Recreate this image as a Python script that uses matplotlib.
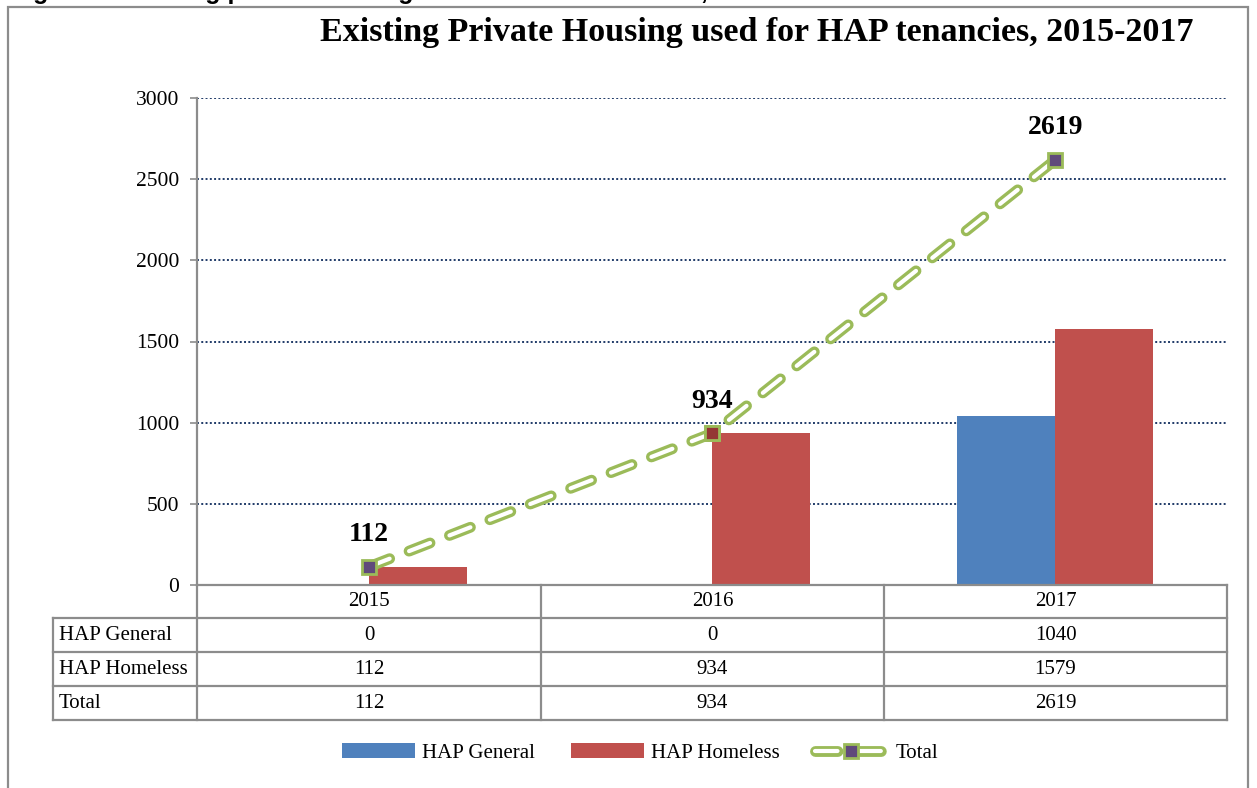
"""Existing private housing used for HAP tenancies, 2015-2017 (chart + data table)."""
import matplotlib
matplotlib.use("Agg")
import matplotlib.pyplot as plt
import matplotlib.patheffects as pe
from matplotlib.lines import Line2D
from matplotlib.patches import Rectangle
import numpy as np

years = ["2015", "2016", "2017"]
hap_general = [0, 0, 1040]
hap_homeless = [112, 934, 1579]
total = [112, 934, 2619]
row_labels = ["HAP General", "HAP Homeless", "Total"]
yticks = [0, 500, 1000, 1500, 2000, 2500, 3000]

W, H = 1257, 788
BLUE = "#4F81BD"
RED = "#C0504D"
GREEN = "#9BBB59"
PURPLE = "#604A7B"
DARKRED = "#943634"
GRAY = "#8C8C8C"
SERIF = "Liberation Serif"


def fx(px):
    return px / W


def fy(py):
    return 1 - py / H


fig = plt.figure(figsize=(W / 100, H / 100), dpi=100)
fig.patch.set_facecolor("white")

# cropped caption above the chart frame
fig.text(fx(11), fy(-1.5), "Figure 3: Existing private housing used for HAP tenancies, 2015-2017",
         ha="left", va="baseline", fontsize=18, fontweight="bold", family="Liberation Sans")

# outer chart frame (bottom edge runs off the page)
fig.patches.append(Rectangle((fx(8), -0.05), fx(1248) - fx(8), fy(7) + 0.05,
                             transform=fig.transFigure, fill=False, edgecolor=GRAY, lw=1.6))

fig.text(fx(757), fy(33), "Existing Private Housing used for HAP tenancies, 2015-2017",
         ha="center", va="center", fontsize=24.5, fontweight="bold", family=SERIF)

# plot area
left, right, top, bottom = 197, 1227, 98, 585
ax = fig.add_axes([fx(left), fy(bottom), fx(right - left), (bottom - top) / H])
x = np.arange(len(years))
width = 0.285
ax.bar(x - width / 2, hap_general, width, color=BLUE, label="HAP General", zorder=2)
ax.bar(x + width / 2, hap_homeless, width, color=RED, label="HAP Homeless", zorder=2)

line, = ax.plot(x, total, color="white", lw=3, ls=(0, (5.4, 5.0)),
                dash_capstyle="round", zorder=3,
                path_effects=[pe.Stroke(linewidth=7.8, foreground=GREEN), pe.Normal()])
marks, = ax.plot(x, total, ls="none", marker="s", ms=10, mfc=PURPLE, mec=GREEN, mew=2, zorder=4)
ax.plot(x[1], total[1], ls="none", marker="s", ms=10, mfc=DARKRED, mec=GREEN, mew=2, zorder=5)

for xi, v in zip(x, total):
    ax.annotate(f"{v}", (xi, v), xytext=(0, 23), textcoords="offset points", ha="center",
                va="center", fontsize=20, fontweight="bold", family=SERIF)

ax.set_xlim(-0.5, 2.5)
ax.set_ylim(0, 3000)
ax.set_yticks(yticks)
ax.set_yticklabels([str(t) for t in yticks], fontsize=15.5, family=SERIF)
ax.set_xticks([])
ax.yaxis.grid(True, color="#1F3A68", ls=(0, (1, 1.2)), lw=1.4)
ax.set_axisbelow(True)
ax.tick_params(axis="y", length=5, width=1.2, color=GRAY, pad=8)
for side in ["top", "right"]:
    ax.spines[side].set_visible(False)
ax.spines["left"].set_color(GRAY)
ax.spines["left"].set_linewidth(1.6)
ax.spines["bottom"].set_color(GRAY)
ax.spines["bottom"].set_linewidth(1.6)

# data table under the axis
col_edges = [197, 541, 884, 1227]
row_edges = [585, 618, 652, 686, 720]
tbl_left = 53


def hline(y, x0, x1):
    fig.add_artist(Line2D([fx(x0), fx(x1)], [fy(y), fy(y)], color=GRAY, lw=1.6))


def vline(xp, y0, y1):
    fig.add_artist(Line2D([fx(xp), fx(xp)], [fy(y0), fy(y1)], color=GRAY, lw=1.6))


for r in row_edges[1:]:
    hline(r, tbl_left, col_edges[-1])
vline(tbl_left, row_edges[1], row_edges[-1])
for c in col_edges:
    vline(c, row_edges[0], row_edges[-1])

table_rows = [hap_general, hap_homeless, total]
for j, yr in enumerate(years):
    cx = (col_edges[j] + col_edges[j + 1]) / 2
    fig.text(fx(cx), fy((row_edges[0] + row_edges[1]) / 2), yr, ha="center", va="center",
             fontsize=15, family=SERIF)
for i, (lab, vals) in enumerate(zip(row_labels, table_rows)):
    cy = (row_edges[i + 1] + row_edges[i + 2]) / 2
    fig.text(fx(tbl_left + 6), fy(cy), lab, ha="left", va="center", fontsize=15, family=SERIF)
    for j, v in enumerate(vals):
        cx = (col_edges[j] + col_edges[j + 1]) / 2
        fig.text(fx(cx), fy(cy), str(v), ha="center", va="center", fontsize=15, family=SERIF)

# legend
handles, labels = ax.get_legend_handles_labels()
fig.legend(handles + [(line, marks)], labels[:2] + ["Total"], loc="center",
           bbox_to_anchor=(fx(640), fy(753)), ncol=3, frameon=False,
           prop={"family": SERIF, "size": 15}, handlelength=3.5, handleheight=0.7,
           handletextpad=0.35, columnspacing=1.7)

fig.savefig("out.png", dpi=100, facecolor="white")
